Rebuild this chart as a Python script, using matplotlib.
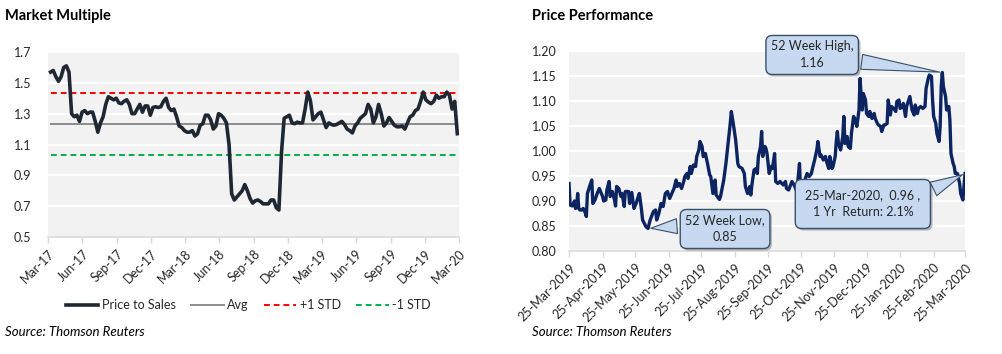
import matplotlib
matplotlib.use("Agg")
import matplotlib.pyplot as plt
import matplotlib.dates as mdates
import matplotlib.patheffects as pe
import pandas as pd

plt.rcParams['font.family'] = ['Lato', 'DejaVu Sans']

# ---- Market Multiple: weekly price to sales, Mar-17 .. Mar-20
ps_start = "2017-03-08"
price_to_sales = [
    1.57, 1.58, 1.54, 1.51, 1.54, 1.60, 1.61, 1.57, 1.30, 1.28,
    1.29, 1.25, 1.31, 1.32, 1.30, 1.31, 1.31, 1.25, 1.18, 1.24,
    1.28, 1.36, 1.41, 1.40, 1.39, 1.40, 1.37, 1.365, 1.38, 1.39,
    1.36, 1.30, 1.30, 1.33, 1.36, 1.31, 1.35, 1.35, 1.29, 1.34,
    1.345, 1.34, 1.345, 1.38, 1.40, 1.34, 1.32, 1.33, 1.28, 1.22,
    1.21, 1.19, 1.18, 1.18, 1.19, 1.155, 1.17, 1.225, 1.235, 1.29,
    1.29, 1.26, 1.20, 1.22, 1.30, 1.29, 1.27, 1.24, 1.10, 0.78,
    0.74, 0.76, 0.78, 0.80, 0.84, 0.80, 0.75, 0.72, 0.735, 0.74,
    0.73, 0.715, 0.715, 0.715, 0.74, 0.74, 0.69, 0.675, 1.05, 1.27,
    1.28, 1.29, 1.24, 1.235, 1.245, 1.24, 1.24, 1.33, 1.44, 1.385,
    1.26, 1.28, 1.30, 1.31, 1.26, 1.21, 1.24, 1.23, 1.225, 1.23,
    1.24, 1.25, 1.23, 1.20, 1.19, 1.175, 1.22, 1.24, 1.27, 1.285,
    1.30, 1.36, 1.33, 1.24, 1.28, 1.36, 1.30, 1.22, 1.24, 1.275,
    1.25, 1.225, 1.215, 1.215, 1.22, 1.20, 1.24, 1.28, 1.29, 1.32,
    1.33, 1.38, 1.44, 1.39, 1.375, 1.365, 1.38, 1.42, 1.40, 1.41,
    1.41, 1.44, 1.42, 1.33, 1.38, 1.17,
]
ps_avg = 1.235
ps_plus_std = 1.436
ps_minus_std = 1.033
ps_yticks = [0.5, 0.7, 0.9, 1.1, 1.3, 1.5, 1.7]

# ---- Price Performance: days since 25-Mar-2019 and relative price
pp_start = "2019-03-25"
pp_days = [
    0, 1, 3, 5, 6, 7, 8, 9, 10, 12, 13, 14, 16, 17, 19, 21, 22, 24, 26, 28,
    31, 32, 34, 35, 37, 38, 40, 42, 43, 44, 46, 48, 49, 51, 52, 55, 56, 58, 60, 62,
    64, 65, 67, 68, 71, 73, 75, 78, 80, 81, 83, 85, 87, 89, 91, 93, 95, 97, 99, 100,
    102, 104, 106, 107, 109, 110, 112, 113, 115, 117, 118, 120, 121, 123, 124, 126, 128, 130, 131, 133,
    135, 136, 139, 140, 143, 145, 147, 149, 150, 152, 154, 156, 157, 160, 162, 163, 165, 167, 168, 169,
    171, 173, 174, 175, 177, 178, 179, 181, 182, 183, 185, 187, 188, 190, 191, 193, 195, 198, 200, 201,
    203, 206, 208, 210, 211, 213, 214, 216, 218, 220, 222, 224, 225, 227, 229, 230, 232, 233, 235, 237,
    238, 240, 241, 243, 244, 246, 247, 248, 249, 251, 253, 254, 255, 257, 258, 260, 261, 263, 264, 266,
    268, 269, 270, 271, 272, 274, 275, 277, 278, 280, 282, 283, 285, 286, 288, 289, 291, 292, 294, 295,
    297, 298, 300, 302, 303, 305, 306, 308, 309, 311, 312, 314, 315, 317, 319, 320, 322, 323, 325, 327,
    329, 330, 332, 333, 335, 336, 337, 339, 340, 342, 343, 344, 345, 346, 348, 349, 351, 352, 353, 355,
    356, 357, 359, 361, 362, 364, 366,
]
pp_price = [
    0.935, 0.892, 0.890, 0.900, 0.885, 0.889, 0.915, 0.885, 0.882, 0.882, 0.885, 0.883, 0.869, 0.915, 0.929, 0.942, 0.895, 0.902, 0.915, 0.925,
    0.909, 0.900, 0.902, 0.922, 0.939, 0.909, 0.919, 0.902, 0.890, 0.929, 0.925, 0.909, 0.915, 0.889, 0.919, 0.919, 0.895, 0.917, 0.885, 0.895,
    0.909, 0.915, 0.882, 0.862, 0.849, 0.845, 0.862, 0.879, 0.882, 0.862, 0.875, 0.895, 0.889, 0.915, 0.919, 0.905, 0.915, 0.925, 0.942, 0.929,
    0.935, 0.925, 0.939, 0.949, 0.955, 0.945, 0.969, 0.955, 0.972, 0.969, 0.989, 1.002, 1.019, 1.009, 0.989, 0.995, 0.975, 0.952, 0.949, 0.915,
    0.942, 0.912, 0.903, 0.909, 0.942, 0.975, 1.015, 1.055, 1.079, 1.052, 1.022, 0.975, 0.969, 0.965, 0.955, 0.929, 0.915, 0.929, 0.912, 0.932,
    0.962, 0.965, 0.955, 0.989, 1.009, 1.039, 0.989, 1.009, 1.005, 0.995, 0.955, 0.969, 0.965, 0.995, 0.939, 0.935, 0.939, 0.932, 0.939, 0.925,
    0.922, 0.939, 0.932, 0.922, 0.929, 0.975, 0.919, 0.932, 0.942, 0.955, 0.949, 0.955, 0.965, 0.982, 1.002, 1.019, 0.989, 0.992, 0.982, 0.989,
    0.979, 0.965, 0.989, 0.965, 0.969, 0.989, 1.019, 1.039, 1.015, 1.002, 1.029, 1.069, 1.015, 1.029, 1.009, 1.005, 1.035, 1.069, 1.065, 1.049,
    1.082, 1.145, 1.109, 1.082, 1.115, 1.102, 1.075, 1.069, 1.079, 1.065, 1.075, 1.065, 1.055, 1.052, 1.049, 1.039, 1.052, 1.052, 1.055, 1.102,
    1.072, 1.089, 1.085, 1.079, 1.099, 1.102, 1.085, 1.089, 1.095, 1.069, 1.089, 1.102, 1.109, 1.082, 1.072, 1.092, 1.075, 1.085, 1.089, 1.085,
    1.089, 1.125, 1.145, 1.152, 1.149, 1.102, 1.069, 1.055, 1.035, 1.019, 1.049, 1.129, 1.157, 1.129, 1.109, 1.082, 1.089, 1.062, 0.995, 0.975,
    0.969, 0.955, 0.955, 0.935, 0.915, 0.902, 0.955,
]
pp_yticks = [0.80, 0.85, 0.90, 0.95, 1.00, 1.05, 1.10, 1.15, 1.20]

ps_dates = pd.date_range(ps_start, periods=len(price_to_sales), freq="7D")
pp_dates = pd.Timestamp(pp_start) + pd.to_timedelta(pp_days, unit="D")

BG = "#f2f2f2"
TXT = "#262626"
AXC = "#d9d9d9"

fig = plt.figure(figsize=(10.02, 3.54), dpi=100)

def style_axes(ax):
    ax.set_facecolor(BG)
    for s in ["left", "right", "top"]:
        ax.spines[s].set_visible(False)
    ax.spines["bottom"].set_color(AXC)
    ax.spines["bottom"].set_linewidth(1.2)
    ax.grid(axis="y", color="white", linewidth=1.6)
    ax.set_axisbelow(True)
    ax.tick_params(axis="y", length=0, labelsize=9, labelcolor=TXT)
    ax.tick_params(axis="x", length=4, color=AXC, width=1, labelsize=9, labelcolor=TXT)

def rotate_labels(ax):
    for lbl in ax.get_xticklabels():
        lbl.set_rotation(45)
        lbl.set_ha("right")
        lbl.set_rotation_mode("anchor")

# ---- left chart
ax1 = fig.add_axes([0.0479, 0.3305, 0.410, 0.5226])
style_axes(ax1)
ax1.plot(ps_dates, price_to_sales, color="#1f2733", lw=2.6, label="Price to Sales", zorder=4)
ax1.plot([ps_dates[0], ps_dates[-1]], [ps_avg, ps_avg], color="#8c8c8c", lw=1.4, label="Avg", zorder=3)
ax1.plot([ps_dates[0], ps_dates[-1]], [ps_plus_std, ps_plus_std], color="#ff0000", lw=1.4,
         ls=(0, (3, 2)), label="+1 STD", zorder=3)
ax1.plot([ps_dates[0], ps_dates[-1]], [ps_minus_std, ps_minus_std], color="#00b050", lw=1.4,
         ls=(0, (3, 2)), label="-1 STD", zorder=3)
ax1.set_ylim(0.5, 1.7)
ax1.set_yticks(ps_yticks)
ax1.set_yticklabels([f"{v:.1f}" for v in ps_yticks])
ax1.tick_params(axis="y", pad=12)
ax1.set_xlim(pd.Timestamp("2017-03-01"), pd.Timestamp("2020-03-01"))
ax1.xaxis.set_major_locator(mdates.MonthLocator(bymonth=[3, 6, 9, 12]))
ax1.xaxis.set_major_formatter(mdates.DateFormatter("%b-%y"))
rotate_labels(ax1)
ax1.legend(loc="center", bbox_to_anchor=(0.248, 0.138), bbox_transform=fig.transFigure,
           ncol=4, frameon=False, fontsize=9, handlelength=2.6, columnspacing=1.2,
           handletextpad=0.3, labelcolor=TXT)

# ---- right chart
ax2 = fig.add_axes([0.5679, 0.291, 0.3952, 0.565])
style_axes(ax2)
ax2.plot(pp_dates, pp_price, color="#0c2461", lw=2.4, zorder=4)
ax2.set_ylim(0.80, 1.20)
ax2.set_yticks(pp_yticks)
ax2.set_yticklabels([f"{v:.2f}" for v in pp_yticks])
ax2.tick_params(axis="y", pad=9)
ax2.set_xlim(pp_dates[0], pp_dates[-1])
ax2.xaxis.set_major_locator(mdates.MonthLocator(bymonthday=25))
ax2.xaxis.set_major_formatter(mdates.DateFormatter("%d-%b-%Y"))
rotate_labels(ax2)

box_fc = "#c6d9f1"
box_ec = "#3a5068"
i_hi = pp_price.index(max(pp_price))
i_lo = pp_price.index(min(pp_price))
# (point index, text, box centre (axes x fraction, data y), wedge root on box, box padding)
callouts = [
    (i_hi, "52 Week High,\n1.16", (0.614, 1.192), (1.0, 0.3), 0.4),
    (i_lo, "52 Week Low,\n0.85", (0.394, 0.844), (0.0, 0.62), 0.4),
    (len(pp_price) - 1, "25-Mar-2020,  0.96 ,\n1 Yr  Return: 2.1%", (0.742, 0.894), (1.0, 0.8), 0.8),
]
for idx, txt, pos, rel, pad in callouts:
    ann = ax2.annotate(txt, xy=(pp_dates[idx], pp_price[idx]), xycoords="data",
                       xytext=pos, textcoords=("axes fraction", "data"),
                       ha="center", va="center", fontsize=9, color=TXT, linespacing=1.5,
                       bbox=dict(boxstyle=f"round,pad={pad},rounding_size=0.5", fc=box_fc, ec=box_ec, lw=1.0),
                       arrowprops=dict(arrowstyle="wedge,tail_width=1.2,shrink_factor=0.5",
                                       fc=box_fc, ec=box_ec, lw=0.8, relpos=rel),
                       zorder=6, annotation_clip=False)
    ann.get_bbox_patch().set_path_effects([pe.withSimplePatchShadow(offset=(1.5, -1.5), alpha=0.35)])

# ---- titles and sources
fig.text(5 / 1002, 1 - 16 / 354, "Market Multiple", fontsize=10.5, fontweight="bold", va="center", color="black")
fig.text(532 / 1002, 1 - 16 / 354, "Price Performance", fontsize=10.5, fontweight="bold", va="center", color="black")
fig.text(5 / 1002, 1 - 332 / 354, "Source: Thomson Reuters", fontsize=9.5, style="italic", va="center", color="black")
fig.text(532 / 1002, 1 - 332 / 354, "Source: Thomson Reuters", fontsize=9.5, style="italic", va="center", color="black")

fig.savefig("out.png", dpi=100, facecolor="white")
